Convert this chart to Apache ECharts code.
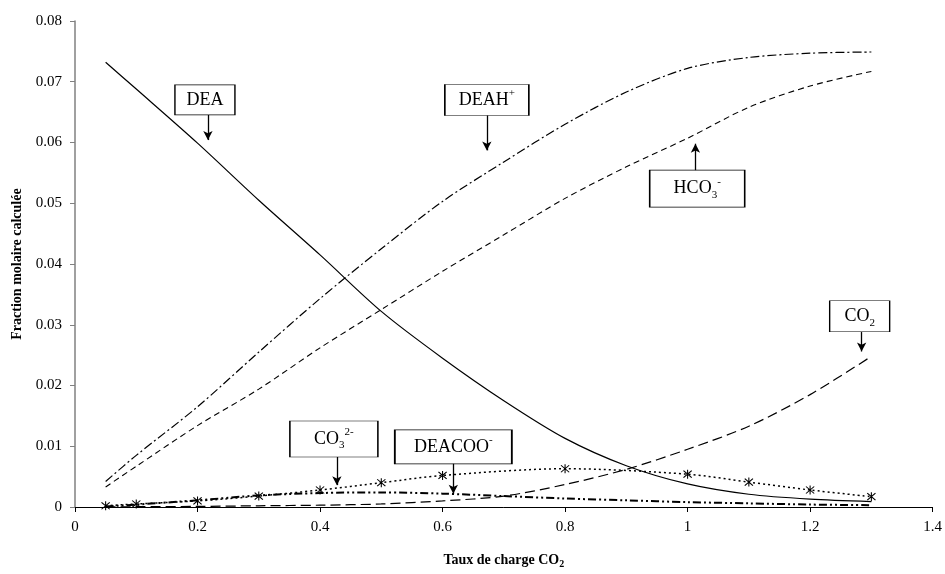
<!DOCTYPE html>
<html>
<head>
<meta charset="utf-8">
<script src="https://cdn.jsdelivr.net/npm/echarts@6/dist/echarts.min.js"></script>
<style>
html,body{margin:0;padding:0;background:#fff;}
#chart{width:945px;height:574px;}
</style>
</head>
<body>
<div id="chart"></div>
<script>
// ---- data ----
const xLoad  = [0.05, 0.1, 0.2, 0.3, 0.4, 0.5, 0.6, 0.7, 0.8, 0.9, 1.0, 1.1, 1.2, 1.3];
const dea    = [0.0732, 0.0688, 0.0599, 0.0505, 0.0415, 0.0322, 0.0245, 0.0175, 0.0113, 0.0068, 0.0038, 0.0021, 0.0013, 0.0009];
const deah   = [0.0042, 0.0085, 0.0165, 0.0255, 0.0343, 0.0425, 0.0503, 0.0568, 0.0630, 0.0683, 0.0722, 0.0740, 0.0747, 0.0749];
const hco3   = [0.0033, 0.0067, 0.0134, 0.0194, 0.0262, 0.0325, 0.0388, 0.0448, 0.0508, 0.0560, 0.0607, 0.0658, 0.0693, 0.0717];
const co2    = [0.00002, 0.00005, 0.0001, 0.0002, 0.0003, 0.0005, 0.001, 0.0018, 0.0037, 0.0062, 0.0095, 0.0133, 0.0185, 0.0248];
const deacoo = [0.0001, 0.0004, 0.0011, 0.0019, 0.0023, 0.0024, 0.0022, 0.0018, 0.0014, 0.0011, 0.0008, 0.0006, 0.0004, 0.0003];
const xCo3   = [0.05, 0.1, 0.2, 0.3, 0.4, 0.5, 0.6, 0.8, 1.0, 1.1, 1.2, 1.3];
const co3    = [0.0002, 0.0005, 0.001, 0.0018, 0.0028, 0.004, 0.0052, 0.0063, 0.0054, 0.0041, 0.0028, 0.0017];

const xTitle = 'Taux de charge CO';
const yTitle = 'Fraction molaire calculée';

// annotation labels: [text, box centre x, box centre y, arrow x, arrow from y, arrow to y]
const notes = [
  ['DEA',                 0.2121, 0.0670, 0.2170, 0.0646, 0.0604],
  ['DEAH{sup|+}',         0.6723, 0.0670, 0.6723, 0.0646, 0.0587],
  ['HCO{sub|3}{sup|-}',   1.0157, 0.0524, 1.0128, 0.0554, 0.0598],
  ['CO{sub|2}',           1.2809, 0.0314, 1.2841, 0.0288, 0.0256],
  ['CO{sub|3}{sup|2-}',   0.4226, 0.0112, 0.4275, 0.0083, 0.0036],
  ['DEACOO{sup|-}',       0.6176, 0.0099, 0.6176, 0.0072, 0.0022]
];
const boxSizes = [[60, 30], [84, 31], [95, 37], [60, 31], [88, 36], [117, 34]];

const pairs = (xs, ys) => xs.map((x, i) => [x, ys[i]]);
const serif = 'Liberation Serif, Times New Roman, serif';

const starPath = 'path://M9,0 L11,0 L11,20 L9,20 Z M1.5,3 L3,1.5 L18.5,17 L17,18.5 Z M17,1.5 L18.5,3 L3,18.5 L1.5,17 Z';

const richStyle = {
  n:   {fontFamily: serif, fontSize: 18, color: '#000', lineHeight: 24},
  sup: {fontFamily: serif, fontSize: 11, color: '#000', lineHeight: 13, verticalAlign: 'top'},
  sub: {fontFamily: serif, fontSize: 11, color: '#000', lineHeight: 11, verticalAlign: 'bottom'}
};

function fmtNote(t) {
  return t.replace(/(^|\})([^{]+)/g, (m, a, b) => a + '{n|' + b + '}');
}

const lineBase = {type: 'line', showSymbol: false, smooth: 0.3, silent: true, animation: false};

const option = {
  animation: false,
  backgroundColor: '#fff',
  grid: {left: 75, right: 12, top: 21, bottom: 62},
  xAxis: {
    type: 'value', min: 0, max: 1.4, interval: 0.2,
    name: '{t|' + xTitle + '}{s|2}',
    nameLocation: 'middle', nameGap: 45,
    nameTextStyle: {
      rich: {
        t: {fontFamily: serif, fontWeight: 'bold', fontSize: 14, color: '#000', lineHeight: 17},
        s: {fontFamily: serif, fontWeight: 'bold', fontSize: 10, color: '#000', lineHeight: 10, verticalAlign: 'bottom'}
      }
    },
    axisLine: {lineStyle: {color: '#000', width: 1}},
    axisTick: {show: true, inside: false, length: 5, lineStyle: {color: '#000'}},
    axisLabel: {fontFamily: serif, fontSize: 15, color: '#000', margin: 13,
                formatter: v => String(+v.toFixed(1))},
    splitLine: {show: false}
  },
  yAxis: {
    type: 'value', min: 0, max: 0.08, interval: 0.01,
    name: yTitle, nameLocation: 'middle', nameGap: 50, nameRotate: 90,
    nameTextStyle: {fontFamily: serif, fontWeight: 'bold', fontSize: 14, color: '#000'},
    axisLine: {show: true, lineStyle: {color: '#808080', width: 1.5}},
    axisTick: {show: true, inside: false, length: 5, lineStyle: {color: '#808080'}},
    axisLabel: {fontFamily: serif, fontSize: 15, color: '#000', margin: 13,
                formatter: v => String(+v.toFixed(2))},
    splitLine: {show: false}
  },
  series: [
    Object.assign({}, lineBase, {name: 'DEA', data: pairs(xLoad, dea), z: 3,
      lineStyle: {color: '#000', width: 1.2, type: 'solid'}}),
    Object.assign({}, lineBase, {name: 'DEAH+', data: pairs(xLoad, deah),
      lineStyle: {color: '#000', width: 1.2, type: [9, 3, 2, 3]}}),
    Object.assign({}, lineBase, {name: 'HCO3-', data: pairs(xLoad, hco3),
      lineStyle: {color: '#000', width: 1.1, type: [6, 4]}}),
    Object.assign({}, lineBase, {name: 'CO2', data: pairs(xLoad, co2),
      lineStyle: {color: '#000', width: 1.2, type: [10, 5]}}),
    Object.assign({}, lineBase, {name: 'DEACOO-', data: pairs(xLoad, deacoo),
      lineStyle: {color: '#000', width: 2, type: [8, 3, 2, 3, 2, 3]}}),
    Object.assign({}, lineBase, {name: 'CO3 2-', data: pairs(xCo3, co3),
      showSymbol: true, symbol: starPath, symbolSize: 9,
      itemStyle: {color: '#000'},
      lineStyle: {color: '#000', width: 1.5, type: [2, 3]}}),
    {
      type: 'line', name: 'notes', data: [], silent: true, animation: false,
      markPoint: {
        silent: true, animation: false,
        data: notes.map((n, i) => ({
          coord: [n[1], n[2]],
          symbol: 'rect', symbolSize: boxSizes[i],
          itemStyle: {color: '#fff', borderColor: '#000', borderWidth: 1},
          label: {show: true, position: 'inside', formatter: fmtNote(n[0]), rich: richStyle}
        }))
      },
      markLine: {
        silent: true, animation: false, symbol: ['none', 'arrow'], symbolSize: [7, 9],
        label: {show: false},
        lineStyle: {color: '#000', width: 1.3, type: 'solid'},
        data: notes.map(n => [{coord: [n[3], n[4]]}, {coord: [n[3], n[5]]}])
      }
    }
  ]
};

const chart = echarts.init(document.getElementById('chart'), null, {renderer: 'canvas'});
chart.setOption(option);
</script>
</body>
</html>
